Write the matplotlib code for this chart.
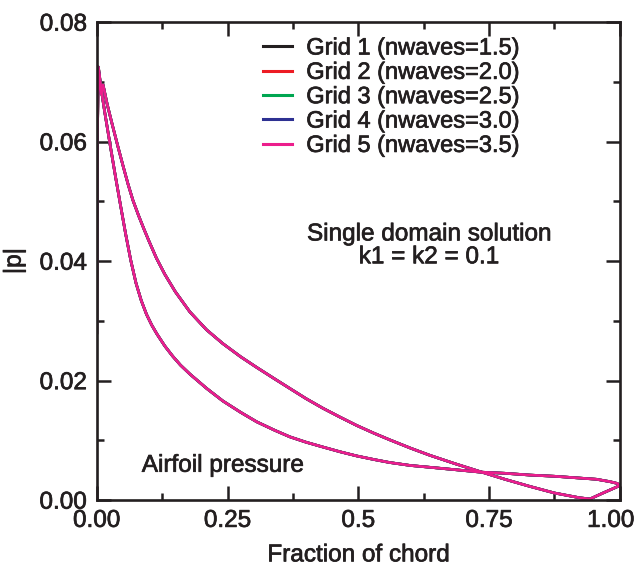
import matplotlib
matplotlib.use("Agg")
import matplotlib.pyplot as plt
import matplotlib.patheffects as pe
from matplotlib.ticker import MultipleLocator, FormatStrFormatter
from matplotlib.transforms import ScaledTranslation

plt.rcParams["font.family"] = ["Liberation Sans", "DejaVu Sans"]

GRID_LABELS = ["Grid 1 (nwaves=1.5)", "Grid 2 (nwaves=2.0)", "Grid 3 (nwaves=2.5)",
               "Grid 4 (nwaves=3.0)", "Grid 5 (nwaves=3.5)"]
GRID_COLORS = ["#231f20", "#ed1c24", "#00a651", "#2e3192", "#ec1e8c"]

# surface with the sharp leading-edge peak (lower loop branch)
inner_x = [0.0, 0.001, 0.003, 0.008, 0.015, 0.025, 0.035, 0.045, 0.055, 0.065, 0.075,
           0.085, 0.095, 0.105, 0.115, 0.13, 0.145, 0.16, 0.178, 0.21, 0.241, 0.275, 0.306,
           0.34, 0.369, 0.40, 0.432, 0.465, 0.497, 0.53, 0.56, 0.60, 0.637, 0.685, 0.732,
           0.78, 0.828, 0.875, 0.923, 0.955, 0.981, 0.995, 1.0]
inner_y = [0.028, 0.060, 0.0725, 0.069, 0.065, 0.0597, 0.0545, 0.0495, 0.0446, 0.0401,
           0.0363, 0.0334, 0.0311, 0.0293, 0.0278, 0.0258, 0.0241, 0.0226, 0.0211, 0.0187,
           0.0166, 0.0147, 0.0131, 0.0117, 0.0106, 0.0097, 0.0089, 0.0081, 0.0074, 0.0068,
           0.0063, 0.0058, 0.0055, 0.0051, 0.0047, 0.0045, 0.0042, 0.0040, 0.0037, 0.0035,
           0.0031, 0.0028, 0.0025]

# other surface (upper loop branch, dips to zero near trailing edge)
outer_x = [0.0, 0.004, 0.008, 0.012, 0.02, 0.03, 0.04, 0.05, 0.06, 0.069, 0.08, 0.09, 0.10,
           0.114, 0.13, 0.15, 0.178, 0.21, 0.241, 0.275, 0.306, 0.34, 0.369, 0.40, 0.432,
           0.465, 0.497, 0.53, 0.56, 0.60, 0.637, 0.685, 0.732, 0.78, 0.828, 0.875, 0.923,
           0.943, 0.968, 0.994, 1.0]
outer_y = [0.066, 0.0715, 0.068, 0.0695, 0.0662, 0.0627, 0.0593, 0.0560, 0.0528, 0.0502,
           0.0476, 0.0454, 0.0433, 0.0405, 0.0378, 0.0349, 0.0315, 0.0285, 0.0262, 0.0240,
           0.0222, 0.0203, 0.0187, 0.0170, 0.0154, 0.0139, 0.0125, 0.0112, 0.0101, 0.0087,
           0.0075, 0.0061, 0.0048, 0.0035, 0.0023, 0.0012, 0.0004, 0.0002, 0.0012, 0.0022,
           0.0025]

X_TICKS = [0.0, 0.25, 0.5, 0.75, 1.0]
X_TICK_LABELS = ["0.00", "0.25", "0.5", "0.75", "1.00"]

INK = "#231f20"
FS = 17.5
heavy = [pe.withStroke(linewidth=0.5, foreground=INK)]

fig = plt.figure(figsize=(6.37, 5.69), dpi=100)
ax = fig.add_axes([0.152, 0.121, 0.821, 0.840])

for lab, col in zip(GRID_LABELS, GRID_COLORS):
    ax.plot(inner_x, inner_y, color=col, lw=1.9, label=lab)
    ax.plot(outer_x, outer_y, color=col, lw=1.9)

ax.set_xlim(0, 1.0)
ax.set_ylim(0, 0.08)
ax.set_xticks(X_TICKS)
ax.set_xticklabels(X_TICK_LABELS)
ax.xaxis.set_minor_locator(MultipleLocator(0.125))
ax.yaxis.set_major_locator(MultipleLocator(0.02))
ax.yaxis.set_minor_locator(MultipleLocator(0.01))
ax.yaxis.set_major_formatter(FormatStrFormatter("%.2f"))

ax.tick_params(which="both", direction="in", top=True, right=True, colors=INK,
               labelsize=FS, width=1.8)
ax.tick_params(which="major", length=10, pad=7)
ax.tick_params(which="minor", length=5)
for s in ax.spines.values():
    s.set_linewidth(1.9)
    s.set_color(INK)

for t in ax.get_xticklabels() + ax.get_yticklabels():
    t.set_path_effects(heavy)
# last x label sits a little left of its tick so it stays inside the figure
last = ax.get_xticklabels()[-1]
last.set_transform(last.get_transform() + ScaledTranslation(-0.09, 0, fig.dpi_scale_trans))

ax.set_xlabel("Fraction of chord", fontsize=FS, color=INK, labelpad=9, path_effects=heavy)
ax.set_ylabel("|p|", fontsize=FS, color=INK, labelpad=10, path_effects=heavy)

leg = ax.legend(loc="upper left", bbox_to_anchor=(0.317, 0.968), frameon=False,
                fontsize=17, handlelength=1.25, handletextpad=0.6, labelspacing=0.1,
                borderaxespad=0, borderpad=0)
for t in leg.get_texts():
    t.set_color(INK)
    t.set_path_effects(heavy)
for h in leg.get_lines():
    h.set_linewidth(2.2)

ax.text(0.635, 0.532, "Single domain solution\nk1 = k2 = 0.1", transform=ax.transAxes,
        ha="center", va="center", fontsize=FS, color=INK, linespacing=1.05,
        path_effects=heavy)
ax.text(0.086, 0.072, "Airfoil pressure", transform=ax.transAxes,
        ha="left", va="center", fontsize=FS, color=INK, path_effects=heavy)

fig.savefig("out.png", dpi=100)
